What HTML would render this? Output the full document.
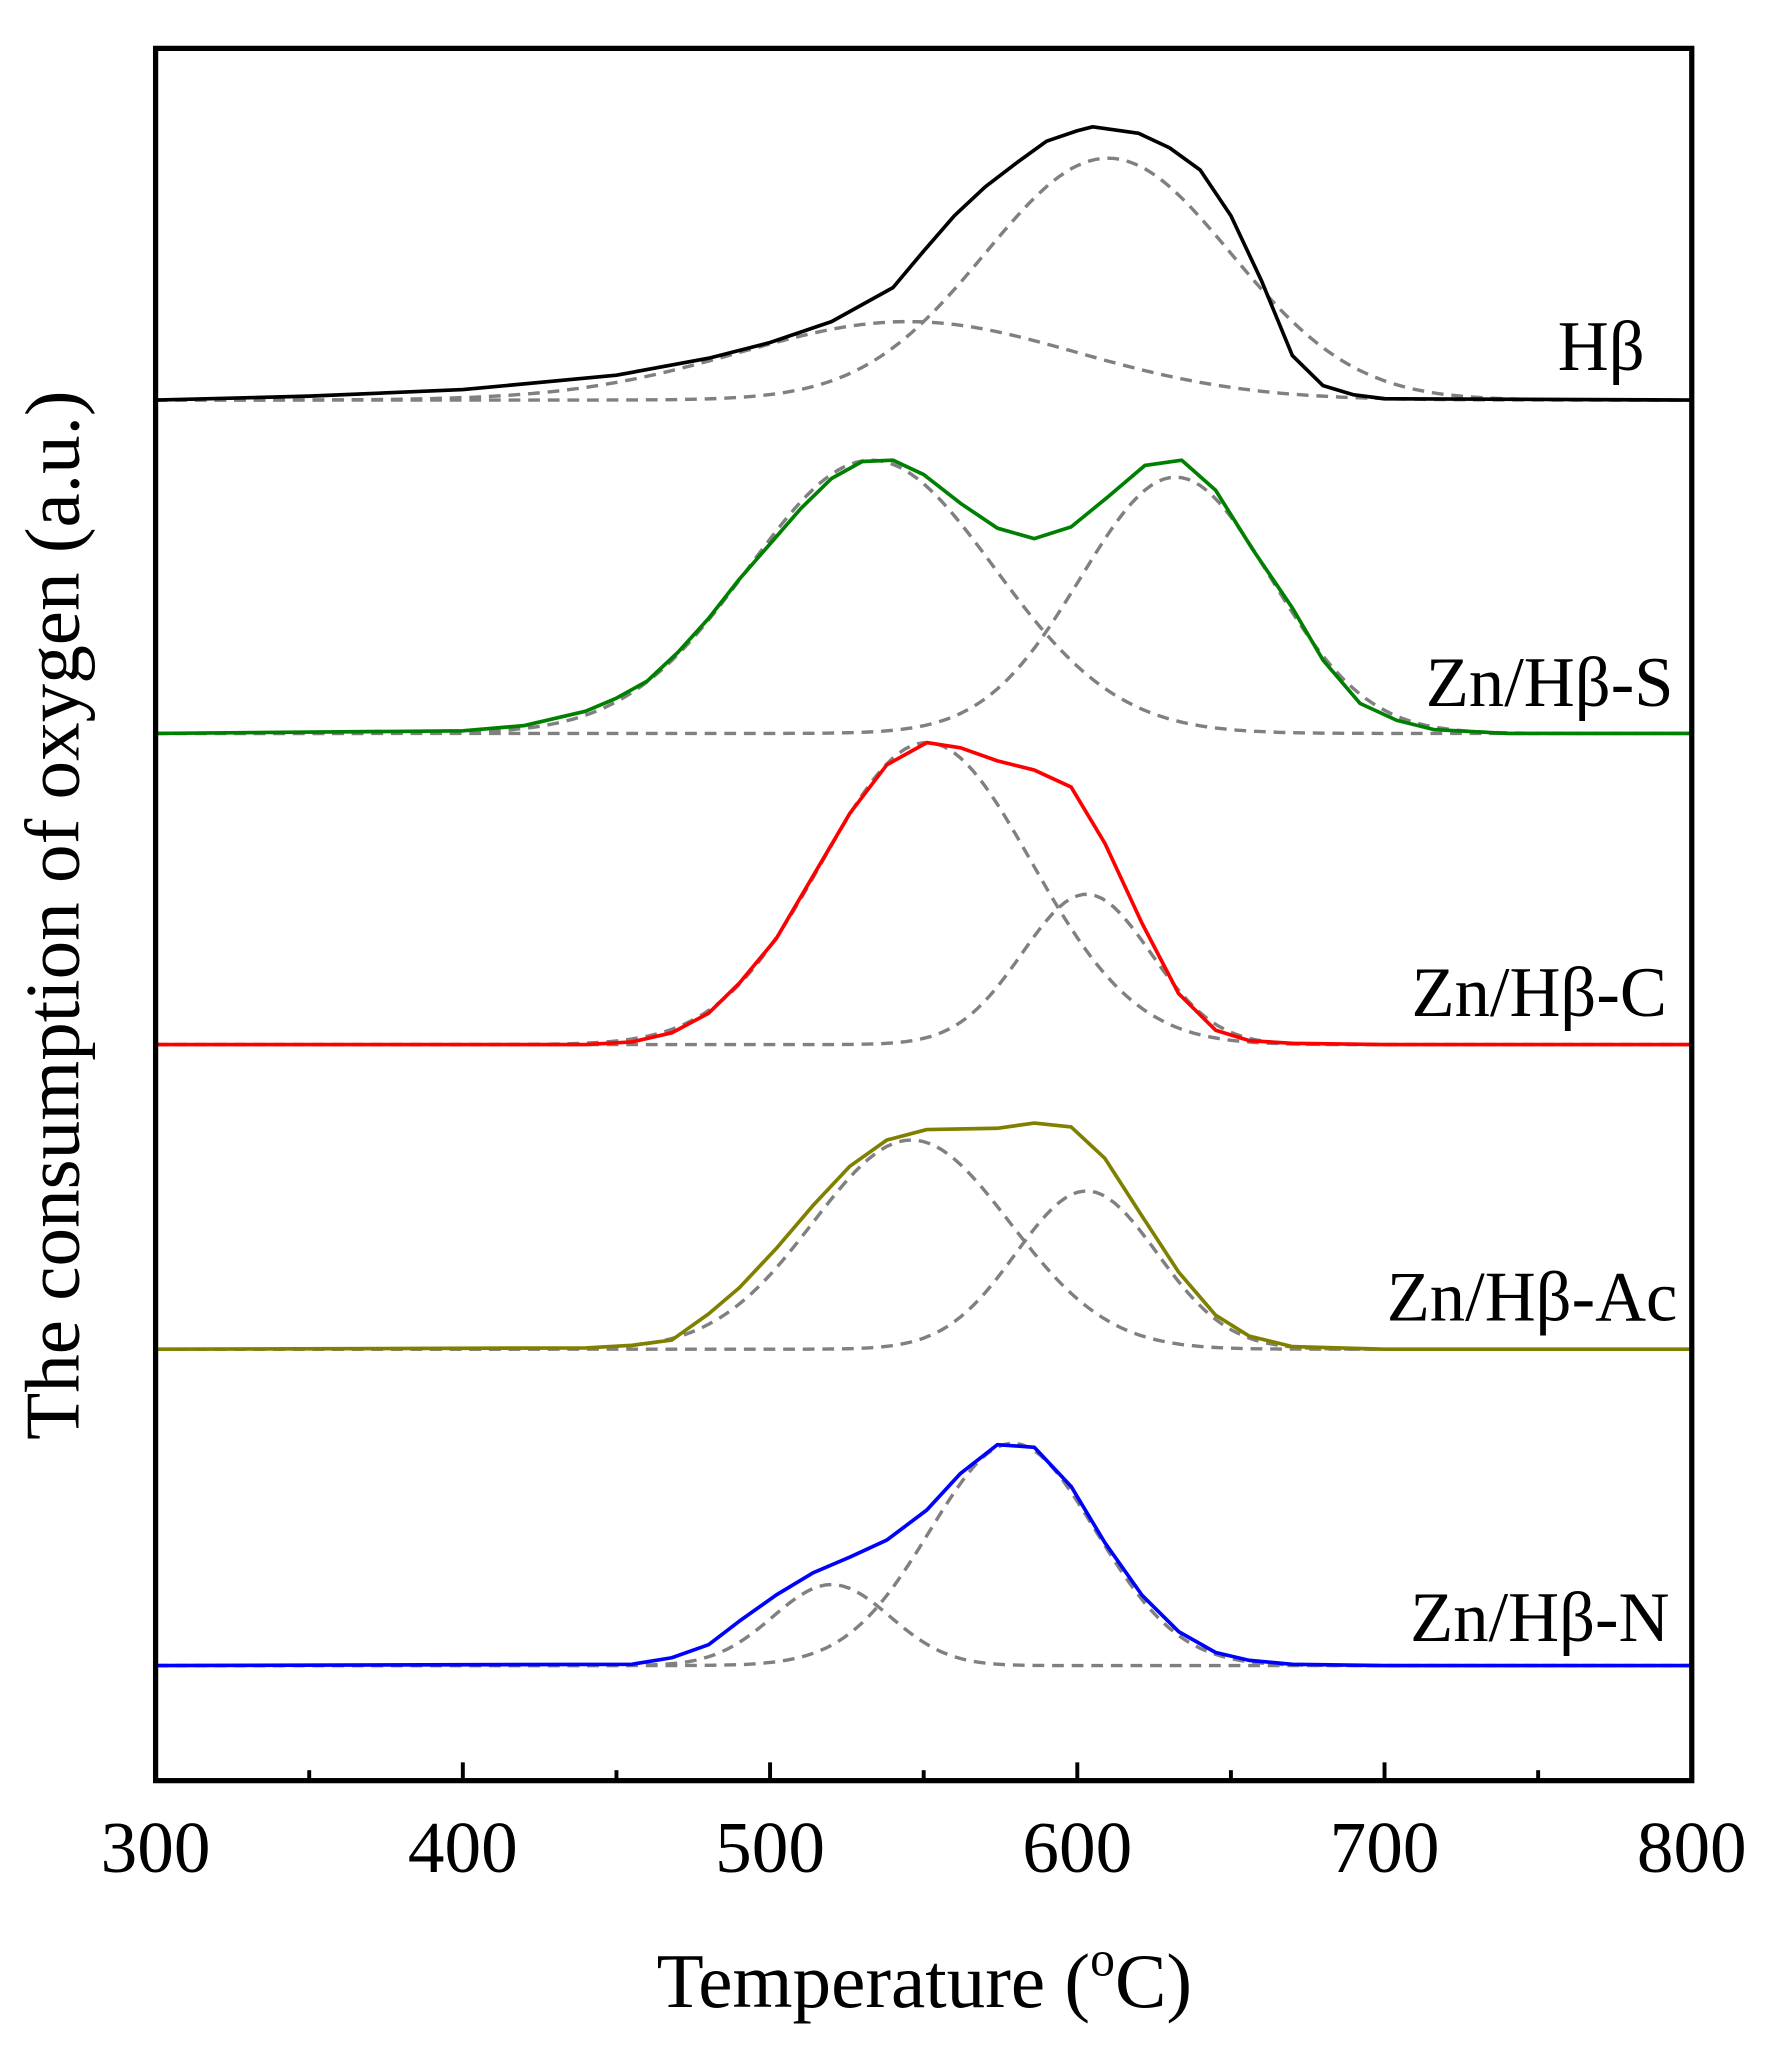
<!DOCTYPE html>
<html><head><meta charset="utf-8"><style>
html,body{margin:0;padding:0;background:#fff;}
svg{display:block;}
text{font-family:"Liberation Serif",serif;fill:#000;}
</style></head><body>
<svg id="chart" width="1765" height="2045" viewBox="0 0 1350 1564.2" xmlns="http://www.w3.org/2000/svg">
<g id="marks"></g>
<rect x="119" y="37" width="1175" height="1325" fill="none" stroke="#000" stroke-width="4"/>
<g id="axis"></g>
<text x="707" y="1535" font-size="59" text-anchor="middle">Temperature (<tspan font-size="38" dy="-24">o</tspan><tspan dy="24">C)</tspan></text>
<text transform="translate(60,700) rotate(-90)" font-size="59" text-anchor="middle">The consumption of oxygen (a.u.)</text>
</svg>
<script>
const xTicks=[300,400,500,600,700,800];
const minorTicks=[350,450,550,650,750];
const sampleNames=["Hβ","Zn/Hβ-S","Zn/Hβ-C","Zn/Hβ-Ac","Zn/Hβ-N"];
const sampleColors=["#000000","#008000","#ff0000","#808000","#0000ff"];
const baselines=[306,561,799,1032,1274];
const labelPos=[[1258,283],[1280,540],[1275,777],[1283,1010],[1277,1255]];
const hbT=[300,350,400,450,480,500,520,530,540,550,560,570,580,590,600,605,620,630,640,650,660,670,680,690,700,800];
const hbH=[0,3,8,19,32,44,60,73,86,114,141,163,181,198,206,209,204,193,176,141,91,34,11,4,1,0];
const sT=[300,400,420,440,450,460,470,480,490,500,510,520,530,540,550,562,574,586,598,610,622,634,645,657,670,680,692,704,716,740,800];
const sH=[0,2,6,17,27,40,62,88,118,145,172,195,208,209,198,176,157,149,158,181,205,209,186,141,96,56,23,10,3,0,0];
const cT=[300,440,455,468,480,490,502,514,526,538,551,562,574,586,598,609,621,633,645,656,670,700,800];
const cH=[0,0,2,9,24,47,81,129,177,214,231,227,217,210,197,154,93,39,11,3,1,0,0];
const acT=[300,440,455,468,480,490,502,514,526,538,551,574,586,598,609,621,633,645,656,670,700,800];
const acH=[0,1,3,7,27,47,77,110,140,160,168,169,173,170,146,102,59,26,10,2,0,0];
const nT=[300,455,468,480,490,502,514,526,538,551,562,574,586,598,609,621,633,645,656,670,700,800];
const nH=[0,1,6,16,34,54,71,83,96,119,147,169,167,137,94,54,26,10,4,1,0,0];
const compCenters=[[545,610],[533,632],[551,603],[546,603],[520,579]];
const compHeights=[[60,185],[209,196],[231,115],[160,121],[62,170]];
const compWidths=[[55,40],[40,31],[34,21],[32,23],[19,27]];
const solidT=[hbT,sT,cT,acT,nT];
const solidH=[hbH,sH,cH,acH,nH];

const NS="http://www.w3.org/2000/svg";
const xs=t=>119+(t-300)*1175/500;
const ys=(i,h)=>baselines[i]-h;
const marks=document.getElementById('marks');
const axis=document.getElementById('axis');
function mk(tag,attrs,parent){const e=document.createElementNS(NS,tag);for(const k in attrs)e.setAttribute(k,attrs[k]);parent.appendChild(e);return e;}

for(let i=0;i<5;i++){
  for(let c=0;c<2;c++){
    let pts=[];
    for(let t=300;t<=800;t+=2){
      const g=compHeights[i][c]*Math.exp(-Math.pow(t-compCenters[i][c],2)/(2*compWidths[i][c]*compWidths[i][c]));
      pts.push(xs(t).toFixed(1)+","+ys(i,g).toFixed(1));
    }
    const p=mk('polyline',{points:pts.join(' '),fill:'none',stroke:'#808080','stroke-width':2.6,'stroke-dasharray':'9,6'},marks);
    
    
  }
  const pts=solidT[i].map((t,k)=>xs(t).toFixed(1)+","+ys(i,solidH[i][k]).toFixed(1));
  const l=mk('polyline',{points:pts.join(' '),fill:'none',stroke:sampleColors[i],'stroke-width':2.8,'stroke-linejoin':'round'},marks);
  
  
  const lab=mk('text',{x:labelPos[i][0],y:labelPos[i][1],'font-size':54,'text-anchor':'end'},marks);
  lab.textContent=sampleNames[i];
  
  
}
xTicks.forEach(t=>{
  const tk=mk('line',{x1:xs(t),x2:xs(t),y1:1362,y2:1348,stroke:'#000','stroke-width':3},axis);
  
  
  const tx=mk('text',{x:xs(t),y:1432,'font-size':56,'text-anchor':'middle'},axis);
  tx.textContent=t;
  
  
});
minorTicks.forEach(t=>{
  const tk=mk('line',{x1:xs(t),x2:xs(t),y1:1362,y2:1354,stroke:'#000','stroke-width':3},axis);
  
  
});
</script>
</body></html>
